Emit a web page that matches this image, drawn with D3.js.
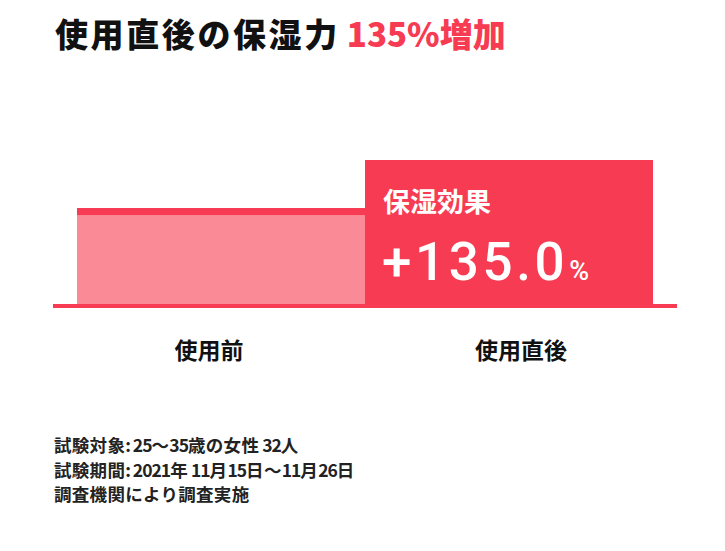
<!DOCTYPE html>
<html>
<head>
<meta charset="utf-8">
<script src="https://cdn.jsdelivr.net/npm/d3@7"></script>
<style>
  body { margin: 0; background: #fff; }
  svg { display: block; }
  text { font-family: "Noto Sans CJK JP", "Noto Sans", sans-serif; }
</style>
</head>
<body>
<div id="chart"></div>
<script>
// data
const categories = ['使用前', '使用直後'];
const values = [100, 235]; // 使用前 = 100 として指数
const effectLabel = '保湿効果';
const effectValue = '+135.0';
const titleMain = '使用直後の保湿力';
const titleAccent = '135%増加';
const notes = [
  '試験対象: 25〜35歳の女性 32人',
  '試験期間: 2021年 11月15日〜11月26日',
  '調査機関により調査実施'
];

const width = 725, height = 551;
const red = '#f73b53', pink = '#f98a96';

const svg = d3.select('#chart')
  .append('svg')
  .attr('width', width)
  .attr('height', height);

// title
const title = svg.append('text')
  .attr('x', 55)
  .attr('y', 47)
  .attr('font-size', 33)
  .attr('font-weight', 900);
title.append('tspan').attr('fill', '#111').attr('letter-spacing', 2.6).text(titleMain);
title.append('tspan').attr('fill', red).attr('dx', 7).attr('letter-spacing', 0).text(titleAccent);

// scales (bars are drawn compressed, not to linear scale)
const x = d3.scaleBand()
  .domain(categories)
  .range([53, 677]);

const y = d3.scalePow()
  .exponent(0.475)
  .domain([0, 235])
  .range([304, 160]);

const inset = 24;
const bars = categories.map((c, i) => ({ c, v: values[i], i }));

svg.append('g')
  .selectAll('rect')
  .data(bars)
  .enter()
  .append('rect')
  .attr('x', d => x(d.c) + (d.i === 0 ? inset : 0))
  .attr('width', x.bandwidth() - inset)
  .attr('y', d => y(d.v))
  .attr('height', d => y(0) - y(d.v))
  .attr('fill', d => d.i === 0 ? pink : red);

// top cap on the "before" bar
svg.append('rect')
  .attr('x', x(categories[0]) + inset)
  .attr('width', x.bandwidth() - inset)
  .attr('y', y(values[0]))
  .attr('height', 7)
  .attr('fill', red);

// baseline
svg.append('rect')
  .attr('x', x.range()[0])
  .attr('width', x.range()[1] - x.range()[0])
  .attr('y', y(0))
  .attr('height', 4)
  .attr('fill', red);

// effect text inside after bar
const bx = x(categories[1]) + 18;
svg.append('text')
  .attr('x', bx)
  .attr('y', 212)
  .attr('font-size', 27)
  .attr('font-weight', 700)
  .attr('fill', '#fff')
  .text(effectLabel);

const big = svg.append('text')
  .attr('x', bx - 1)
  .attr('y', 280)
  .attr('fill', '#fff')
  .style('font-family', 'Roboto, sans-serif')
  .attr('font-weight', 500);
big.append('tspan').attr('font-size', 53).attr('letter-spacing', 3.6).text(effectValue);
big.append('tspan').attr('font-size', 27).attr('dx', 1).text('%');

// category labels
svg.append('g')
  .selectAll('text')
  .data(categories)
  .enter()
  .append('text')
  .attr('x', d => x(d) + x.bandwidth() / 2)
  .attr('y', 359)
  .attr('text-anchor', 'middle')
  .attr('font-size', 23)
  .attr('font-weight', 700)
  .attr('fill', '#111')
  .text(d => d);

// footnotes: latin runs set tighter than kanji
const noteG = svg.append('g');
notes.forEach((line, i) => {
  const t = noteG.append('text')
    .attr('x', 54)
    .attr('y', 452 + i * 24.5)
    .attr('font-size', 17.5)
    .attr('font-weight', 700)
    .attr('fill', '#222');
  line.match(/[\x00-\x7F]+|[^\x00-\x7F]+/g).forEach(seg => {
    t.append('tspan')
      .attr('letter-spacing', /[\x00-\x7F]/.test(seg) ? -1 : 0.3)
      .text(seg);
  });
});
</script>
</body>
</html>
